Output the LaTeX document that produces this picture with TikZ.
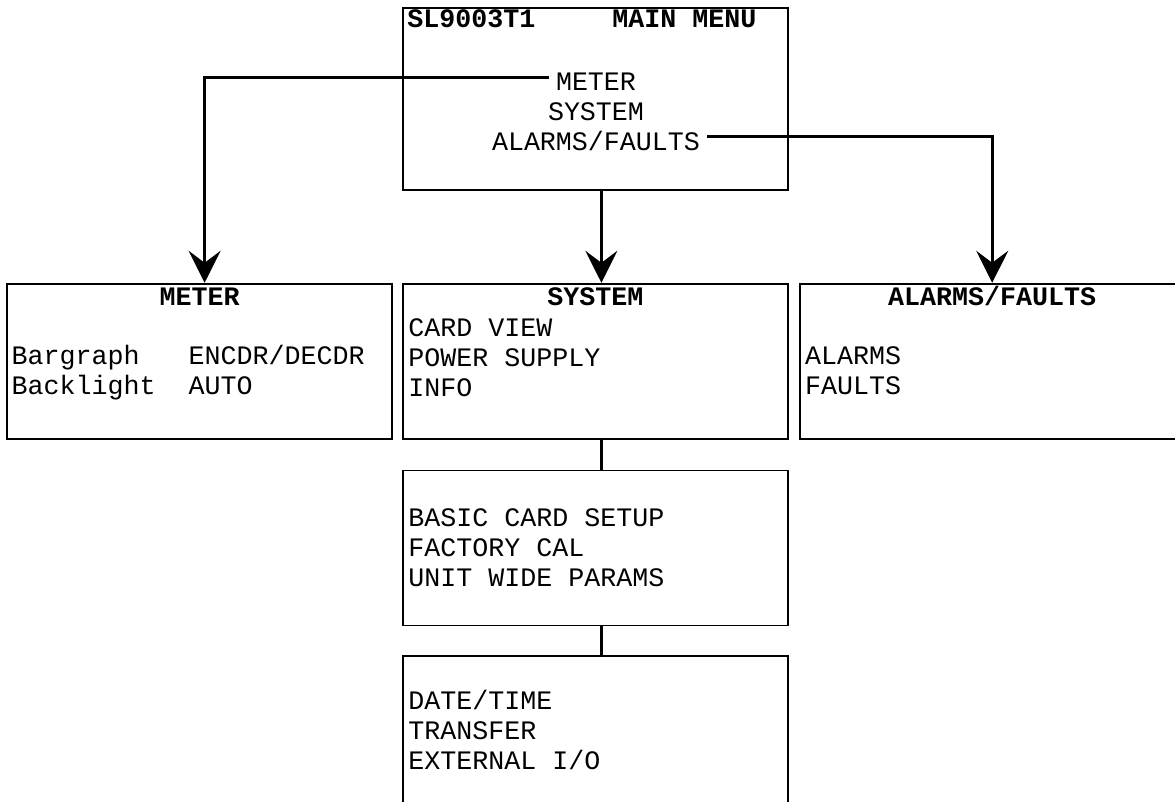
\documentclass[tikz,border=0pt]{standalone}
\usepackage{fontspec}
\usetikzlibrary{
  arrows.meta,
  positioning
}
\newfontfamily\lcdfont{Liberation Mono}
\newcommand{\screen}{\lcdfont\fontsize{13.33}{15}\selectfont}
\newcommand{\screenbf}{\lcdfont\bfseries\fontsize{13.33}{15}\selectfont}
\tikzset{
  panel/.style={
    draw=black,
    line width=0.9pt,
    minimum width=192.5pt,
    minimum height=77.5pt,
    inner sep=0pt
  },
  heading/.style={
    anchor=base,
    inner sep=0pt,
    font=\screenbf
  },
  entry/.style={
    anchor=base west,
    inner sep=0pt,
    font=\screen
  },
  menuitem/.style={
    anchor=base,
    inner xsep=3.5pt,
    inner ysep=0pt,
    font=\screen
  },
  wire/.style={
    line width=1.5pt,
    draw=black
  },
  flow/.style={
    wire,
    -{Stealth[length=16pt, width=16pt, inset=6pt]}
  }
}

\begin{document}
\begin{tikzpicture}[x=0.5pt, y=-0.5pt]
  \useasboundingbox (0,0) rectangle (1175,802);
  % screens
  \node[panel, anchor=north west, minimum height=91pt] (mainmenu) at (402,7) {};
  \node[panel, below=46pt of mainmenu] (system) {};
  \node[panel, left=4.5pt of system] (meter) {};
  \node[panel, right=5pt of system] (alarms) {};
  \node[panel, below=15pt of system] (cardsetup) {};
  \node[panel, below=14.5pt of cardsetup] (datebox) {};
  % main menu
  \node[heading, anchor=base west] (mm-id) at ([shift={(2.5pt,-10.5pt)}]mainmenu.north west) {SL9003T1};
  \node[heading, anchor=base west] (mm-title) at ([shift={(105pt,-10.5pt)}]mainmenu.north west) {MAIN MENU};
  \node[menuitem] (mm-meter) at ([shift={(97pt,-42pt)}]mainmenu.north west) {METER};
  \node[menuitem] (mm-system) at ([shift={(97pt,-57pt)}]mainmenu.north west) {SYSTEM};
  \node[menuitem] (mm-alarms) at ([shift={(97pt,-72pt)}]mainmenu.north west) {ALARMS/FAULTS};
  % sub menus
  \node[heading] (meter-title) at ([yshift=-11.5pt]meter.north) {METER};
  \node[heading] (system-title) at ([yshift=-11.5pt]system.north) {SYSTEM};
  \node[heading] (alarms-title) at ([yshift=-11.5pt]alarms.north) {ALARMS/FAULTS};
  \node[entry] (meter-bar) at ([shift={(2.5pt,-41pt)}]meter.north west) {Bargraph};
  \node[entry] (meter-back) at ([shift={(2.5pt,-56pt)}]meter.north west) {Backlight};
  \node[entry] (meter-barval) at ([shift={(91pt,-41pt)}]meter.north west) {ENCDR/DECDR};
  \node[entry] (meter-backval) at ([shift={(91pt,-56pt)}]meter.north west) {AUTO};
  \foreach \txt [count=\i] in {CARD VIEW, POWER SUPPLY, INFO}
    \node[entry] (system-\i) at ([shift={(3pt,{-12pt-15pt*\i})}]system.north west) {\txt};
  \foreach \txt [count=\i] in {ALARMS, FAULTS}
    \node[entry] (alarms-\i) at ([shift={(3pt,{-26pt-15pt*\i})}]alarms.north west) {\txt};
  \foreach \txt [count=\i] in {BASIC CARD SETUP, FACTORY CAL, UNIT WIDE PARAMS}
    \node[entry] (cardsetup-\i) at ([shift={(3pt,{-13.5pt-15pt*\i})}]cardsetup.north west) {\txt};
  \foreach \txt [count=\i] in {DATE/TIME, TRANSFER, EXTERNAL I/O}
    \node[entry] (datebox-\i) at ([shift={(3pt,{-12pt-15pt*\i})}]datebox.north west) {\txt};
  % links
  \draw[flow] ([yshift=2.5pt]mm-meter.west) -| ([xshift=2.5pt]meter.north);
  \draw[flow] ([xshift=3pt]mainmenu.south) -- ([xshift=3pt]system.north);
  \draw[flow] ([yshift=2.5pt]mm-alarms.east) -| (alarms.north);
  \draw[wire] ([xshift=3pt]system.south) -- ([xshift=3pt]cardsetup.north);
  \draw[wire] ([xshift=3pt]cardsetup.south) -- ([xshift=3pt]datebox.north);
\end{tikzpicture}
\end{document}
